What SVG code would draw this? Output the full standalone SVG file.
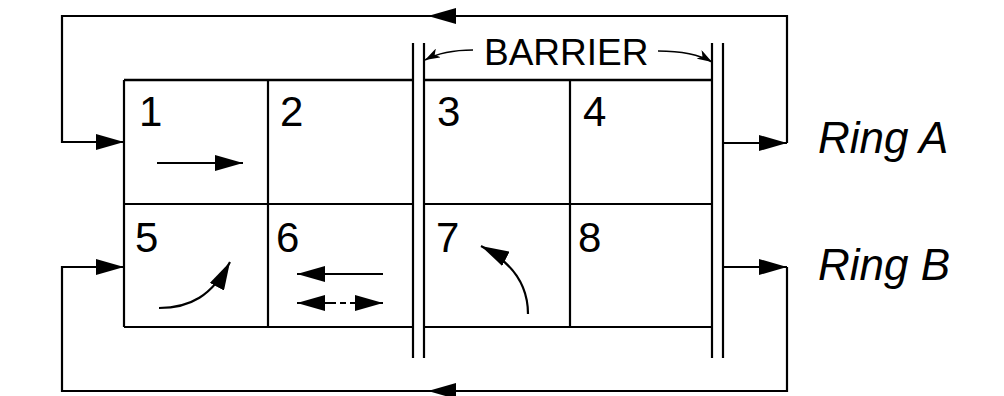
<svg xmlns="http://www.w3.org/2000/svg" width="1004" height="396" viewBox="0 0 1004 396">
<style>
.ln{fill:none;stroke:#000;stroke-width:2.2}
.th{fill:none;stroke:#000;stroke-width:2.6}
.num{font-family:"Liberation Sans",Arial,sans-serif;font-size:42px;fill:#000}
.lbl{font-family:"Liberation Sans",Arial,sans-serif;font-size:37px;fill:#000}
.ring{font-family:"Liberation Sans",Arial,sans-serif;font-size:44px;font-style:italic;fill:#000}
</style>
<defs>
<marker id="ah" markerUnits="userSpaceOnUse" markerWidth="30" markerHeight="16" refX="28" refY="8" orient="auto-start-reverse">
<path d="M0,0 L28,8 L0,16 Z" fill="#000"/>
</marker>
<marker id="sm" markerUnits="userSpaceOnUse" markerWidth="16" markerHeight="10" refX="15" refY="5" orient="auto">
<path d="M0,0 L15,5 L0,10 L4,5 Z" fill="#000"/>
</marker>
</defs>
<g id="grid">
<path class="th" d="M124,80 H413 M424,80 H712"/>
<path class="ln" d="M124,204 H413 M424,204 H712"/>
<path class="ln" d="M124,327 H413 M424,327 H712"/>
<path class="ln" d="M124,80 V327 M268,80 V327 M570,80 V327"/>
</g>
<g id="barrier">
<path class="ln" d="M413,43 V358 M424,43 V358 M712,43 V358 M723,43 V358"/>
<text class="lbl" x="484" y="65">BARRIER</text>
</g>
<g id="cell1"><text class="num" x="139" y="126">1</text></g>
<g id="cell2"><text class="num" x="280" y="126">2</text></g>
<g id="cell3"><text class="num" x="437" y="126">3</text></g>
<g id="cell4"><text class="num" x="583" y="126">4</text></g>
<g id="cell5"><text class="num" x="135" y="252">5</text></g>
<g id="cell6"><text class="num" x="276" y="252">6</text></g>
<g id="cell7"><text class="num" x="436" y="252">7</text></g>
<g id="cell8"><text class="num" x="578" y="252">8</text></g>
<g id="ringA"><text class="ring" x="818" y="153">Ring A</text></g>
<g id="ringB"><text class="ring" x="818" y="280">Ring B</text></g>
<g id="connectors">
<path class="ln" d="M787,143 V16 H62 V142 H124" marker-end="url(#ah)"/>
<path class="ln" d="M787,16 H428" marker-end="url(#ah)"/>
<path class="ln" d="M723,143 H787" marker-end="url(#ah)"/>
<path class="ln" d="M787,267 V391 H62 V267 H124" marker-end="url(#ah)"/>
<path class="ln" d="M787,391 H428" marker-end="url(#ah)"/>
<path class="ln" d="M723,267 H787" marker-end="url(#ah)"/>
<path class="ln" d="M157,163 H243" marker-end="url(#ah)"/>
<path class="ln" d="M159,308 C190,308 212,296 230,262" marker-end="url(#ah)"/>
<path class="ln" d="M383,274 H297" marker-end="url(#ah)"/>
<path class="ln" d="M330,303 H297" marker-end="url(#ah)"/>
<path class="ln" d="M350,303 H383" marker-end="url(#ah)"/>
<path class="ln" d="M330,303 H350" stroke-dasharray="6,4"/>
<path class="ln" d="M528,314 C528,285 512,262 481,246" marker-end="url(#ah)"/>
<path fill="none" stroke="#000" stroke-width="1.6" d="M473,50 C455,50 438,53 425,60" marker-end="url(#sm)"/>
<path fill="none" stroke="#000" stroke-width="1.6" d="M658,51 C680,51 700,55 712,62" marker-end="url(#sm)"/>
</g>
</svg>
